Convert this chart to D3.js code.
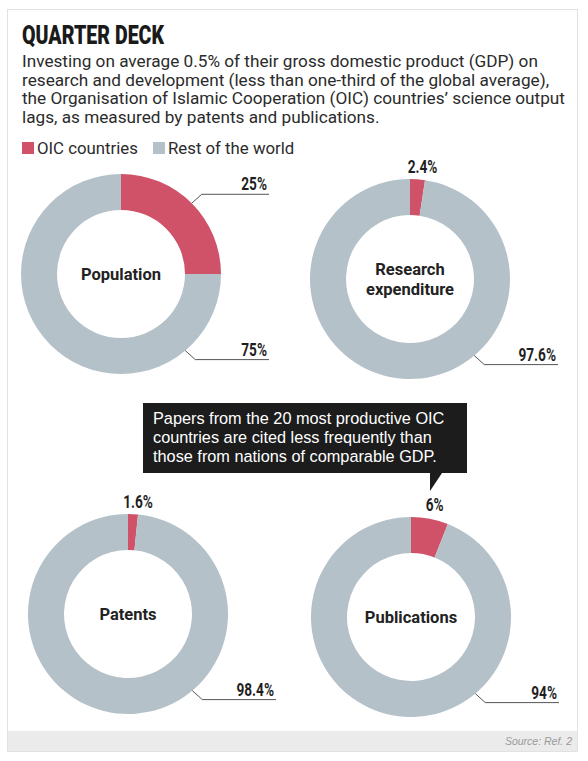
<!DOCTYPE html>
<html>
<head>
<meta charset="utf-8">
<script src="https://cdn.jsdelivr.net/npm/d3@7"></script>
<style>
  html, body { margin: 0; padding: 0; background: #ffffff; }
  svg { display: block; }
</style>
</head>
<body>
<div id="chart"></div>
<script>
  // data

  const panels = ["Population", "Research expenditure", "Patents", "Publications"];
  const oicShare = [25, 2.4, 1.6, 6];
  const restShare = [75, 97.6, 98.4, 94];
  const seriesNames = ["OIC countries", "Rest of the world"];
  const introLines = [
    "Investing on average 0.5% of their gross domestic product (GDP) on",
    "research and development (less than one-third of the global average),",
    "the Organisation of Islamic Cooperation (OIC) countries\u2019 science output",
    "lags, as measured by patents and publications."
  ];
  const noteLines = [
    "Papers from the 20 most productive OIC",
    "countries are cited less frequently than",
    "those from nations of comparable GDP."
  ];

  // config

  const width = 588;
  const height = 761;
  const colors = ["#cf5269", "#b4c1c8"];
  const centres = [[121, 274], [410, 279], [128, 614], [411, 617]];
  const outerR = 100;
  const innerR = 64;
  const sans = "Roboto, 'Liberation Sans', sans-serif";

  const svg = d3.select("#chart")
    .append("svg")
    .attr("width", width)
    .attr("height", height)
    .attr("viewBox", [0, 0, width, height]);

  // narrow bold text: squeeze horizontally around its anchor
  function narrowText(parent, x, y, anchor, size, sx, str) {
    return parent.append("g")
      .attr("transform", `translate(${x}, ${y}) scale(${sx}, 1)`)
      .append("text")
      .attr("text-anchor", anchor)
      .style("font-family", sans)
      .style("font-weight", "bold")
      .style("font-size", size + "px")
      .style("fill", "#1f1f1f")
      .text(str);
  }

  // frame and footer

  svg.append("rect")
    .attr("x", 7.5).attr("y", 9.5)
    .attr("width", 570).attr("height", 742)
    .attr("fill", "#ffffff")
    .attr("stroke", "#e2e2e2");

  svg.append("rect")
    .attr("x", 8).attr("y", 731)
    .attr("width", 569).attr("height", 20)
    .attr("fill", "#ebebeb");

  svg.append("text")
    .attr("x", 572).attr("y", 745)
    .attr("text-anchor", "end")
    .style("font-family", "'Liberation Sans', sans-serif")
    .style("font-size", "10.5px")
    .style("font-style", "italic")
    .style("fill", "#9a9a9a")
    .text("Source: Ref. 2");

  // heading

  svg.append("text")
    .attr("x", 22).attr("y", 44)
    .attr("textLength", 142)
    .attr("lengthAdjust", "spacingAndGlyphs")
    .style("font-family", sans)
    .style("font-weight", "900")
    .style("font-size", "26px")
    .style("fill", "#1a1a1a")
    .text("QUARTER DECK");

  svg.append("g")
    .selectAll("text")
    .data(introLines)
    .join("text")
    .attr("x", 22)
    .attr("y", (d, i) => 67 + i * 18.5)
    .style("font-family", sans)
    .style("font-size", "17.2px")
    .style("fill", "#2b2b2b")
    .text(d => d);

  // legend

  const legendX = [22, 153];
  const legend = svg.append("g")
    .selectAll("g")
    .data(seriesNames)
    .join("g")
    .attr("transform", (d, i) => `translate(${legendX[i]}, 142)`);

  legend.append("rect")
    .attr("width", 12).attr("height", 12)
    .attr("fill", (d, i) => colors[i]);

  legend.append("text")
    .attr("x", 15).attr("y", 11.5)
    .style("font-family", sans)
    .style("font-size", "16.8px")
    .style("fill", "#2b2b2b")
    .text(d => d);

  // donuts

  const pie = d3.pie().sort(null).value(d => d);
  const arc = d3.arc().innerRadius(innerR).outerRadius(outerR);

  const pctFormat = v => v + "%";

  function leader(g, angleDeg, value, dy) {
    const a = angleDeg * Math.PI / 180;
    const x0 = outerR * Math.sin(a);
    const y0 = -outerR * Math.cos(a);
    const x1 = x0 + 10;
    const y1 = y0 + dy;
    const x2 = 148;

    g.append("path")
      .attr("d", d3.line()([[x0, y0], [x1, y1], [x2, y1]]))
      .attr("fill", "none")
      .attr("stroke", "#555555")
      .attr("stroke-width", 1);

    narrowText(g, x2 - 2, y1 - 4, "end", 17.5, 0.78, pctFormat(value));
  }

  panels.forEach((name, i) => {
    const g = svg.append("g")
      .attr("transform", `translate(${centres[i][0]}, ${centres[i][1]})`);

    const slices = pie([oicShare[i], restShare[i]]);

    g.selectAll("path.slice")
      .data(slices)
      .join("path")
      .attr("class", "slice")
      .attr("d", arc)
      .attr("fill", (d, j) => colors[j]);

    // OIC label
    const s = slices[0];
    const mid = (s.startAngle + s.endAngle) / 2;
    if (oicShare[i] >= 10) {
      leader(g, mid * 180 / Math.PI, oicShare[i], -9);
    } else {
      narrowText(g, outerR * Math.sin(mid) + 5, -outerR - 6, "middle", 17.5, 0.78, pctFormat(oicShare[i]));
    }

    // rest of world label
    leader(g, 140, restShare[i], 9);

    // centre label
    const words = name.split(" ");
    g.append("text")
      .attr("text-anchor", "middle")
      .style("font-family", sans)
      .style("font-weight", "bold")
      .style("font-size", "16.5px")
      .style("fill", "#222222")
      .selectAll("tspan")
      .data(words)
      .join("tspan")
      .attr("x", 0)
      .attr("y", (d, j) => 6 + (j - (words.length - 1) / 2) * 20)
      .text(d => d);
  });

  // callout

  const note = svg.append("g");

  note.append("path")
    .attr("d", d3.line()([[143, 403], [467, 403], [467, 473], [442, 473], [430, 491], [430, 473], [143, 473]]) + "Z")
    .attr("fill", "#1c1c1c");

  note.selectAll("text")
    .data(noteLines)
    .join("text")
    .attr("x", 153)
    .attr("y", (d, i) => 424 + i * 19)
    .style("font-family", "'Liberation Sans', sans-serif")
    .style("font-size", "16.3px")
    .style("fill", "#ffffff")
    .text(d => d);
</script>
</body>
</html>
